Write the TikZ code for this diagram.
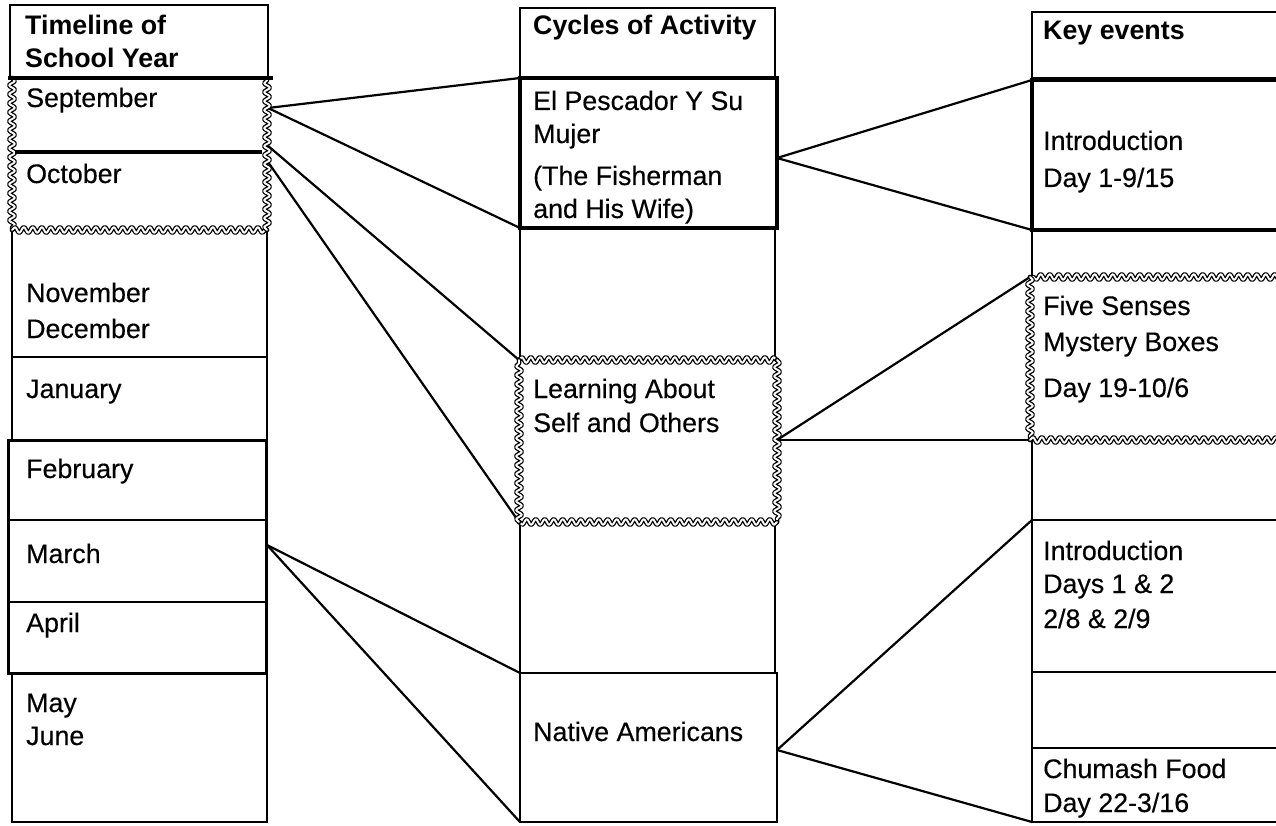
\documentclass[tikz,border=0pt]{standalone}
\usepackage{fontspec}
\setmainfont{Liberation Sans}[UprightFeatures={FakeBold=0.3}]
\usetikzlibrary{decorations.pathmorphing,fit}

\tikzset{
  area/.style={inner sep=0pt, outer sep=0pt},
  cell/.style={area, draw, line width=2pt},
  heavy/.style={area, draw, line width=4.5pt},
  firm/.style={area, draw, line width=3pt},
  wavy/.style={decorate, decoration={snake, amplitude=2.8pt, segment length=9pt},
    draw, line width=1.3pt, double=white, double distance=1.9pt,
    line join=round, line cap=round},
  link/.style={line width=2.2pt},
  txt/.style={anchor=base west, inner sep=0pt, font=\fontsize{26.8}{32}\selectfont},
  head/.style={txt, font=\fontsize{26.8}{32}\selectfont\bfseries},
}

\begin{document}
\begin{tikzpicture}[x=1pt,y=-1pt]
\useasboundingbox (0,0) rectangle (1276,826);
\clip (0,0) rectangle (1276,826);
\fill[white] (0,0) rectangle (1276,826);

% ---------- left column: timeline of the school year ----------
\node[cell, fit={(10,5) (268,78)}] (tl) {};
\node[area, fit={(12,78) (267,152)}] (sep) {};
\node[area, fit={(12,152) (267,230)}] (oct) {};
\node[cell, fit={(12,230) (267,357)}] (novdec) {};
\node[cell, fit={(12,357) (267,440)}] (jan) {};
\node[cell, fit={(8,440) (266,520)}] (feb) {};
\node[cell, fit={(8,520) (266,602)}] (mar) {};
\node[cell, fit={(8,602) (266,673)}] (apr) {};
\node[firm, fit={(8,440) (266,673)}] (febapr) {};
\node[cell, fit={(12,673) (267,822)}] (mayjun) {};

% ---------- middle column: cycles of activity ----------
\node[cell, fit={(520,8) (775,78)}] (cl) {};
\node[cell, fit={(520,228) (775,360)}] (gap1) {};
\node[cell, fit={(520,522) (775,673)}] (gap2) {};
\node[area, fit={(519,360) (777,522)}] (las) {};
\node[cell, fit={(520,673) (777,822)}] (nat) {};
\node[heavy, fit={(520,78) (777,228)}] (pesc) {};

% ---------- right column: key events ----------
\node[cell, fit={(1032,12) (1300,78)}] (kl) {};
\node[cell, fit={(1032,230) (1300,277)}] (gap3) {};
\node[cell, fit={(1032,440) (1300,520)}] (gap4) {};
\node[cell, fit={(1032,520) (1300,672)}] (intro2) {};
\node[cell, fit={(1032,672) (1300,748)}] (gap5) {};
\node[cell, fit={(1032,748) (1300,822)}] (chum) {};
\node[area, fit={(1030,277) (1300,440)}] (five) {};
\node[heavy, fit={(1032,80) (1300,230)}] (intro) {};

% ---------- connector origins on the box edges ----------
\coordinate (sepR)  at (268,108);
\coordinate (octR1) at (267,145);
\coordinate (octR2) at (268,162);
\coordinate (marR)  at (267,545);
\coordinate (pescR) at (777,158);
\coordinate (lasR)  at (777,440);
\coordinate (natR)  at (777,750);

% ---------- connectors ----------
\draw[link] (sepR) -- (pesc.north west);
\draw[link] (sepR) -- (pesc.south west);
\draw[link] (octR1) -- (las.north west);
\draw[link] (octR2) -- (las.south west);
\draw[link] (marR) -- (nat.north west);
\draw[link] (marR) -- (nat.south west);
\draw[link] (pescR) -- (intro.north west);
\draw[link] (pescR) -- (intro.south west);
\draw[link] (lasR) -- (five.north west);
\draw[link] (lasR) -- (five.south west);
\draw[link] (natR) -- (intro2.north west);
\draw[link] (natR) -- (chum.south west);

% ---------- wavy borders (each side on its own) and heavy rules ----------
\draw[wavy] (sep.north west) -- (oct.south west);
\draw[wavy] (oct.south west) -- (oct.south east);
\draw[wavy] (oct.south east) -- (sep.north east);
\draw[line width=4.5pt] (8,78) -- (273,78);
\draw[line width=4pt] (15,152) -- (262,152);
\draw[wavy] (las.north west) -- (las.north east);
\draw[wavy] (las.north east) -- (las.south east);
\draw[wavy] (las.south east) -- (las.south west);
\draw[wavy] (las.south west) -- (las.north west);
\draw[wavy] (1300,277) -- (five.north west);
\draw[wavy] (five.north west) -- (five.south west);
\draw[wavy] (five.south west) -- (1300,440);

% ---------- texts ----------
\node[head] (h1a) at (25,35) {Timeline of};
\node[head] (h1b) at (25,68) {School Year};
\node[txt] (t1) at (26,107) {September};
\node[txt] (t2) at (26,183) {October};
\node[txt] (t3a) at (26,302) {November};
\node[txt] (t3b) at (26,338) {December};
\node[txt] (t4) at (26,398) {January};
\node[txt] (t5) at (26,478) {February};
\node[txt] (t6) at (26,563) {March};
\node[txt] (t7) at (26,632) {April};
\node[txt] (t8a) at (26,712) {May};
\node[txt] (t8b) at (26,745) {June};

\node[head] (h2) at (533,35) {Cycles of Activity};
\node[txt] (c1a) at (533,110) {El Pescador Y Su};
\node[txt] (c1b) at (533,143) {Mujer};
\node[txt] (c1c) at (533,185) {(The Fisherman};
\node[txt] (c1d) at (533,218) {and His Wife)};
\node[txt] (c2a) at (533,398) {Learning About};
\node[txt] (c2b) at (533,432) {Self and Others};
\node[txt] (c3) at (533,741) {Native Americans};

\node[head] (h3) at (1043,40) {Key events};
\node[txt] (k1a) at (1043,150) {Introduction};
\node[txt] (k1b) at (1043,187) {Day 1-9/15};
\node[txt] (k2a) at (1043,315) {Five Senses};
\node[txt] (k2b) at (1043,351) {Mystery Boxes};
\node[txt] (k2c) at (1043,397) {Day 19-10/6};
\node[txt] (k3a) at (1043,560) {Introduction};
\node[txt] (k3b) at (1043,593) {Days 1 \& 2};
\node[txt] (k3c) at (1043,628) {2/8 \& 2/9};
\node[txt] (k4a) at (1043,778) {Chumash Food};
\node[txt] (k4b) at (1043,812) {Day 22-3/16};
\end{tikzpicture}
\end{document}
